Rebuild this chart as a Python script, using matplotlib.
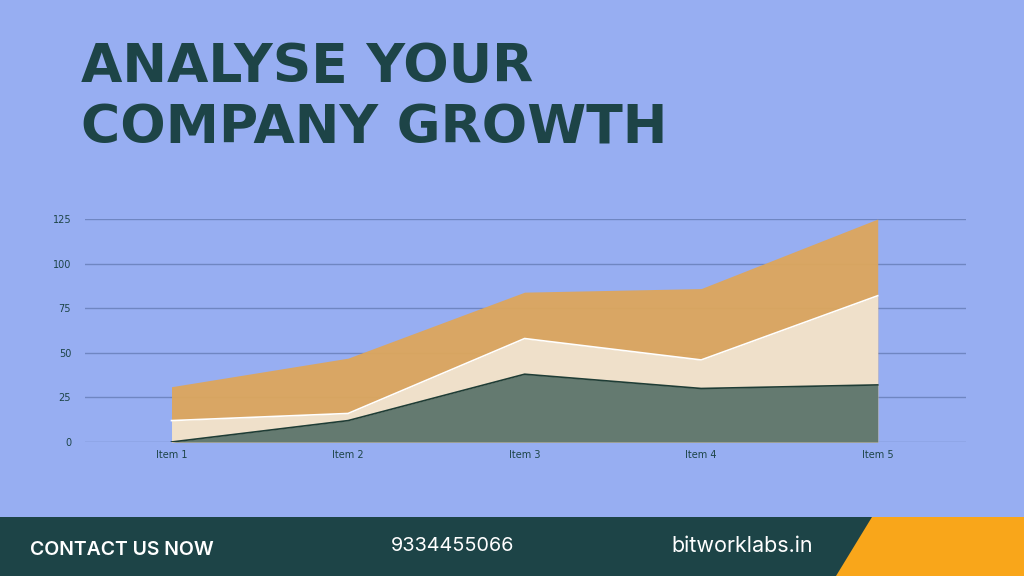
import matplotlib.pyplot as plt
from matplotlib.patches import Polygon, Rectangle

# data (cumulative tops of each area)
items = ["Item 1", "Item 2", "Item 3", "Item 4", "Item 5"]
series_green = [0, 12, 38, 30, 32]
series_cream = [12, 16, 58, 46, 82]
series_orange = [31, 47, 84, 86, 125]
y_ticks = [0, 25, 50, 75, 100, 125]

BG = "#97AEF2"
DARK = "#1D4447"

fig = plt.figure(figsize=(10.24, 5.76), dpi=100)
fig.patch.set_facecolor(BG)

# title
fig.text(81 / 1024, 1 - 67 / 576, "ANALYSE YOUR", fontsize=38.5, fontweight="bold",
         family="DejaVu Sans", color=DARK, va="center", ha="left")
fig.text(81 / 1024, 1 - 128 / 576, "COMPANY GROWTH", fontsize=38.5, fontweight="bold",
         family="DejaVu Sans", color=DARK, va="center", ha="left")

# chart
ax = fig.add_axes([85 / 1024, (576 - 442) / 576, 881 / 1024, 223 / 576])
ax.set_facecolor(BG)
x = list(range(len(items)))

ax.fill_between(x, 0, series_orange, color="#DDA65C", alpha=0.95, lw=0, zorder=2)
ax.fill_between(x, 0, series_cream, color="#EFE0CA", lw=0, zorder=3)
ax.plot(x, series_cream, color="white", lw=1.2, zorder=4)
ax.fill_between(x, 0, series_green, color="#647A70", lw=0, zorder=5)
ax.plot(x, series_green, color="#1F3D36", lw=1.2, zorder=6)

ax.set_xlim(-0.49, 4.5)
ax.set_ylim(0, 125)
ax.set_yticks(y_ticks)
ax.set_xticks(x)
ax.set_xticklabels(items)
ax.grid(axis="y", color="#6F86C2", lw=1, zorder=1)
ax.set_axisbelow(True)
for s in ax.spines.values():
    s.set_visible(False)
ax.tick_params(length=0, labelsize=7, labelcolor=DARK)
ax.tick_params(axis="y", pad=10)
ax.tick_params(axis="x", pad=6)

# footer
fig.add_artist(Rectangle((0, 0), 1, 59 / 576, transform=fig.transFigure,
                         facecolor=DARK, edgecolor="none"))
fig.add_artist(Polygon([(872 / 1024, 59 / 576), (1, 59 / 576), (1, 0), (836 / 1024, 0)],
                       closed=True, transform=fig.transFigure,
                       facecolor="#F9A61A", edgecolor="none"))
fig.text(30 / 1024, 1 - 550 / 576, "CONTACT US NOW", fontsize=14, fontweight="semibold",
         family="Inter", color="white", va="center", ha="left")
fig.text(453 / 1024, 1 - 546 / 576, "9334455066", fontsize=14.3,
         family="Inter", color="white", va="center", ha="center")
fig.text(742 / 1024, 1 - 546 / 576, "bitworklabs.in", fontsize=15.5,
         family="Inter", color="white", va="center", ha="center")

fig.savefig("out.png", dpi=100, facecolor=BG)
